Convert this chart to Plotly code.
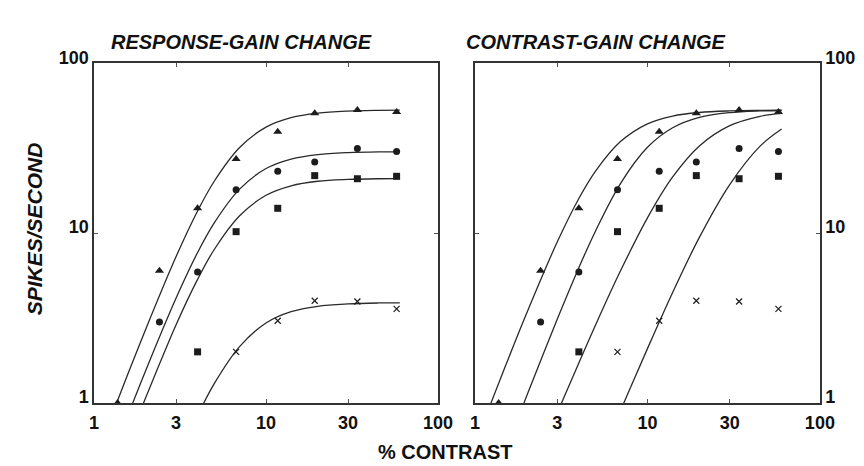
import plotly.graph_objects as go

# ---- data ----
contrast = [1.37, 2.4, 4.0, 6.7, 11.7, 19.2, 34, 57.5]
resp_triangle = [1.0, 6.0, 14.0, 27.3, 39.5, 50.7, 53.0, 51.6]
resp_circle = [None, 3.0, 5.9, 18.0, 23.1, 26.2, 31.5, 30.2]
resp_square = [None, None, 2.0, 10.2, 14.0, 21.8, 20.9, 21.6]
resp_cross = [None, None, None, 2.0, 3.05, 4.0, 3.96, 3.58]

# fitted curves
curve_x = [1, 1.5, 2, 3, 4, 5, 7, 10, 14, 20, 30, 45, 60]
left_curve_1 = [0.455, 1.31, 2.73, 7.28, 13.5, 20.2, 31.8, 42.1, 47.9, 50.9, 52.3, 52.8, 52.9]
left_curve_2 = [0.259, 0.748, 1.56, 4.15, 7.69, 11.5, 18.1, 24.0, 27.3, 29.0, 29.8, 30.1, 30.1]
left_curve_3 = [0.180, 0.520, 1.08, 2.89, 5.34, 8.01, 12.6, 16.7, 19.0, 20.2, 20.7, 20.9, 20.95]
left_curve_4 = [0.027, 0.078, 0.165, 0.445, 0.844, 1.30, 2.14, 2.96, 3.45, 3.71, 3.83, 3.88, 3.89]
right_curve_1 = [0.575, 1.65, 3.41, 8.89, 16.0, 23.2, 34.7, 44.0, 48.9, 51.3, 52.4, 52.8, 52.9]
right_curve_2 = [0.180, 0.523, 1.11, 3.12, 6.26, 10.3, 19.7, 32.0, 41.7, 48.0, 51.2, 52.4, 52.7]
right_curve_3 = [0.064, 0.169, 0.335, 0.877, 1.72, 2.88, 6.04, 12.3, 21.4, 32.6, 42.9, 48.7, 50.7]
right_curve_4 = [0.0087, 0.023, 0.046, 0.121, 0.240, 0.409, 0.909, 2.09, 4.47, 9.44, 19.3, 32.5, 41.0]

x_ticks = [1, 3, 10, 30, 100]
x_tick_labels = ["1", "3", "10", "30", "100"]
y_ticks = [1, 10, 100]
y_tick_labels = ["1", "10", "100"]

titles = ["RESPONSE-GAIN CHANGE", "CONTRAST-GAIN CHANGE"]
x_title = "% CONTRAST"
y_title = "SPIKES/SECOND"

INK = "#1c1c1c"
LINE = "#2a2a2a"
FONT = "Liberation Sans, Arial, Helvetica, sans-serif"

fig = go.Figure()

markers = [
    (resp_triangle, dict(symbol="triangle-up", size=8, color=INK)),
    (resp_circle, dict(symbol="circle", size=7, color=INK)),
    (resp_square, dict(symbol="square", size=7, color=INK)),
    (resp_cross, dict(symbol="x-thin-open", size=6, color=INK, line=dict(width=1.2, color=INK))),
]

panels = [
    ("x", "y", [left_curve_1, left_curve_2, left_curve_3, left_curve_4]),
    ("x2", "y2", [right_curve_1, right_curve_2, right_curve_3, right_curve_4]),
]

for xa, ya, curves in panels:
    for c in curves:
        fig.add_trace(go.Scatter(
            x=curve_x, y=c, mode="lines", xaxis=xa, yaxis=ya,
            line=dict(color=LINE, width=1.3, shape="spline"),
            showlegend=False, hoverinfo="skip"))
    for vals, mk in markers:
        fig.add_trace(go.Scatter(
            x=contrast, y=vals, mode="markers", xaxis=xa, yaxis=ya,
            marker=mk, showlegend=False, cliponaxis=False))

tickfont = dict(family=FONT, size=18, color="#111", weight="bold")
axis_common = dict(
    type="log", range=[0, 2], showgrid=False, zeroline=False,
    showline=True, linecolor="#333", linewidth=1.5, mirror="ticks",
    ticks="inside", ticklen=4, tickwidth=1, tickcolor="#555",
    tickfont=tickfont,
)
x_extra = dict(ticklabelstandoff=3)
y_extra = dict(ticklabelshift=-6)

fig.update_layout(
    width=864, height=466,
    margin=dict(l=0, r=0, t=0, b=0),
    paper_bgcolor="white", plot_bgcolor="white",
    xaxis=dict(**axis_common, **x_extra, domain=[83/864, 435/864], anchor="y",
               tickvals=x_ticks, ticktext=x_tick_labels),
    yaxis=dict(**axis_common, **y_extra, domain=[70/466, 425/466], anchor="x",
               tickvals=y_ticks, ticktext=y_tick_labels),
    xaxis2=dict(**axis_common, **x_extra, domain=[473/864, 826/864], anchor="y2",
                tickvals=x_ticks, ticktext=x_tick_labels),
    yaxis2=dict(**axis_common, **y_extra, domain=[70/466, 425/466], anchor="x2",
                side="right", tickvals=y_ticks, ticktext=y_tick_labels),
)

title_font = dict(family=FONT, size=20, color="#111")
fig.add_annotation(text="<b><i>" + titles[0] + "</i></b>", x=234/864, y=1 - 19/466,
                   xref="paper", yref="paper", showarrow=False, font=title_font,
                   xanchor="center", yanchor="middle")
fig.add_annotation(text="<b><i>" + titles[1] + "</i></b>", x=597/864, y=1 - 19/466,
                   xref="paper", yref="paper", showarrow=False, font=title_font,
                   xanchor="center", yanchor="middle")
fig.add_annotation(text="<b>" + x_title + "</b>", x=442/864, y=1 - 447/466,
                   xref="paper", yref="paper", showarrow=False,
                   font=dict(family=FONT, size=20, color="#111"),
                   xanchor="center", yanchor="middle")
fig.add_annotation(text="<b><i>" + y_title + "</i></b>", x=22/864, y=1 - 214/466,
                   xref="paper", yref="paper", showarrow=False, textangle=-90,
                   font=dict(family=FONT, size=21, color="#111"),
                   xanchor="center", yanchor="middle")

fig.write_html("out.html")
